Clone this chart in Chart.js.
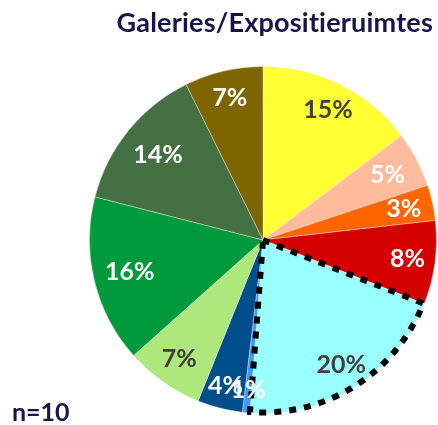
<!DOCTYPE html>
<html>
<head>
<meta charset="utf-8">
<script src="https://cdn.jsdelivr.net/npm/chart.js@4/dist/chart.umd.min.js"></script>
<style>
  html, body { margin: 0; padding: 0; background: #fff; }
  #wrap { width: 438px; height: 425px; }
</style>
</head>
<body>
<div id="wrap"><canvas id="pie" width="438" height="425"></canvas></div>
<script>
const categories = ['A', 'B', 'C', 'D', 'E', 'F', 'G', 'H', 'I', 'J', 'K'];
const shares = [14.7, 5.2, 3.3, 7.8, 20.2, 0.7, 4.2, 7.3, 15.6, 13.7, 7.3];
const sliceColors = ['#FFFF33', '#FFBB9B', '#FF6600', '#D40000', '#99FFFF', '#3D9BF2',
  '#004F8C', '#AEE87C', '#009A3C', '#447044', '#7F6500'];
const labelColors = ['#404040', '#fff', '#fff', '#fff', '#404040', '#fff',
  '#fff', '#404040', '#fff', '#fff', '#fff'];
// how far out each percent label sits, as a share of the radius
const labelRadius = [0.84, 0.81, 0.83, 0.84, 0.85, 0.87, 0.87, 0.84, 0.79, 0.78, 0.84];
const titleText = 'Galeries/Expositieruimtes';
const noteText = 'n=10';
const dashedSlice = 4;

// percent labels, dashed outline round one slice, title and note
const extras = {
  id: 'extras',
  afterDatasetsDraw(chart) {
    const ctx = chart.ctx;
    const arcs = chart.getDatasetMeta(0).data;

    const a = arcs[dashedSlice];
    ctx.save();
    ctx.beginPath();
    ctx.moveTo(a.x, a.y);
    ctx.arc(a.x, a.y, a.outerRadius - 1, a.startAngle, a.endAngle);
    ctx.closePath();
    ctx.lineWidth = 6;
    ctx.setLineDash([7, 8]);
    ctx.strokeStyle = '#000';
    ctx.stroke();
    ctx.restore();

    ctx.save();
    ctx.font = 'bold 25px Lato';
    ctx.textAlign = 'center';
    ctx.textBaseline = 'middle';
    arcs.forEach((arc, i) => {
      const mid = (arc.startAngle + arc.endAngle) / 2;
      const r = arc.outerRadius * labelRadius[i];
      ctx.fillStyle = labelColors[i];
      ctx.fillText(Math.round(shares[i]) + '%', arc.x + Math.cos(mid) * r, arc.y + Math.sin(mid) * r);
    });
    ctx.restore();

    ctx.save();
    ctx.fillStyle = '#15154A';
    ctx.textBaseline = 'alphabetic';
    ctx.letterSpacing = '0.2px'; // also keeps Lato from joining "ti"
    ctx.font = 'bold 27px Lato';
    ctx.textAlign = 'right';
    ctx.fillText(titleText, 433, 32);
    ctx.letterSpacing = '0px';
    ctx.font = 'bold 25px Lato';
    ctx.textAlign = 'left';
    ctx.fillText(noteText, 12, 421);
    ctx.restore();
  }
};

new Chart(document.getElementById('pie'), {
  type: 'pie',
  data: {
    labels: categories,
    datasets: [{
      data: shares,
      backgroundColor: sliceColors,
      borderColor: 'rgba(255,255,255,0.35)',
      borderWidth: 1
    }]
  },
  options: {
    responsive: false,
    animation: false,
    layout: { padding: { left: 89, right: 1, top: 66, bottom: 11 } },
    plugins: {
      legend: { display: false },
      tooltip: { enabled: false }
    }
  },
  plugins: [extras]
});
</script>
</body>
</html>
